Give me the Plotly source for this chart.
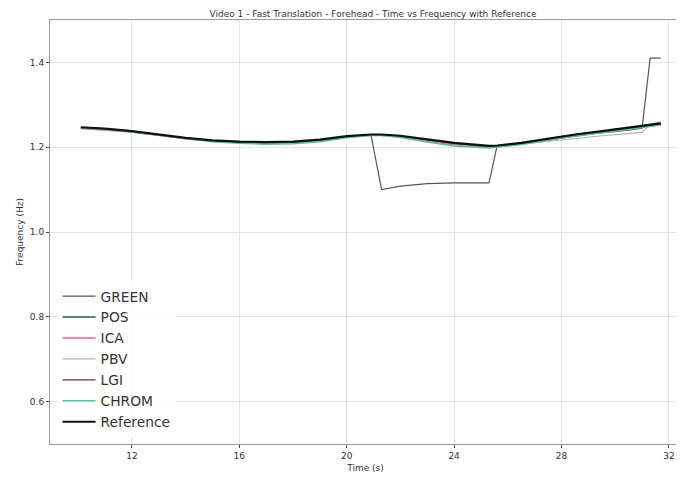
import plotly.graph_objects as go

time_s = [10.1, 11.0, 12.0, 13.0, 14.0, 15.0, 16.0, 17.0, 18.0, 19.0, 20.0, 20.9, 21.3,
          22.0, 23.0, 24.0, 25.3, 25.6, 26.5, 27.5, 28.5, 29.5, 30.5, 31.0, 31.3, 31.7]

reference = [1.247, 1.244, 1.238, 1.230, 1.222, 1.216, 1.213, 1.212, 1.213, 1.218, 1.226, 1.230, 1.230,
             1.227, 1.218, 1.210, 1.203, 1.204, 1.210, 1.220, 1.230, 1.238, 1.246, 1.250, 1.253, 1.256]
green = [1.245, 1.243, 1.237, 1.229, 1.221, 1.215, 1.212, 1.211, 1.212, 1.217, 1.225, 1.230, 1.100,
         1.108, 1.114, 1.116, 1.116, 1.203, 1.208, 1.217, 1.226, 1.234, 1.240, 1.245, 1.410, 1.410]
pos = [1.246, 1.243, 1.237, 1.229, 1.221, 1.215, 1.212, 1.211, 1.212, 1.217, 1.225, 1.229, 1.229,
       1.226, 1.217, 1.209, 1.202, 1.203, 1.209, 1.219, 1.229, 1.237, 1.245, 1.249, 1.252, 1.255]
ica = [1.244, 1.241, 1.236, 1.228, 1.220, 1.214, 1.211, 1.210, 1.211, 1.216, 1.224, 1.228, 1.228,
       1.224, 1.214, 1.206, 1.200, 1.202, 1.208, 1.218, 1.228, 1.236, 1.244, 1.248, 1.251, 1.254]
pbv = [1.246, 1.242, 1.236, 1.228, 1.220, 1.214, 1.211, 1.210, 1.211, 1.216, 1.224, 1.229, 1.229,
       1.225, 1.216, 1.208, 1.201, 1.203, 1.207, 1.214, 1.221, 1.227, 1.232, 1.235, 1.255, 1.260]
lgi = [1.246, 1.243, 1.237, 1.229, 1.221, 1.215, 1.212, 1.211, 1.212, 1.217, 1.225, 1.229, 1.229,
       1.226, 1.217, 1.209, 1.202, 1.203, 1.209, 1.219, 1.229, 1.237, 1.245, 1.249, 1.252, 1.255]
chrom = [1.245, 1.242, 1.236, 1.228, 1.220, 1.213, 1.209, 1.207, 1.208, 1.213, 1.222, 1.228, 1.228,
         1.223, 1.212, 1.203, 1.198, 1.200, 1.206, 1.216, 1.226, 1.234, 1.242, 1.246, 1.249, 1.252]

x_ticks = [12, 16, 20, 24, 28, 32]
y_ticks = [0.6, 0.8, 1.0, 1.2, 1.4]

series = [
    ("GREEN", green, "#505a55", 1.2),
    ("POS", pos, "#2e5a50", 1.6),
    ("ICA", ica, "#e06a78", 1.6),
    ("PBV", pbv, "#b8b0b0", 1.2),
    ("LGI", lgi, "#7a2a3a", 1.2),
    ("CHROM", chrom, "#4fc2a0", 1.4),
    ("Reference", reference, "#111111", 2.2),
]

fig = go.Figure()
for name, vals, color, w in series:
    fig.add_trace(go.Scatter(x=time_s, y=vals, mode="lines", name=name,
                             line=dict(color=color, width=w)))

fig.update_layout(
    width=676, height=473,
    margin=dict(l=42, r=3, t=12, b=37),
    paper_bgcolor="white", plot_bgcolor="white",
    font=dict(family="DejaVu Sans", size=9, color="#333"),
    title=dict(text="Video 1 - Fast Translation - Forehead - Time vs Frequency with Reference",
               x=0.54, xanchor="center", y=0.995, yanchor="top", pad=dict(t=0, b=0),
               font=dict(size=9, color="#333")),
    showlegend=True,
    legend=dict(x=0.012, y=0.015, xanchor="left", yanchor="bottom",
                bgcolor="rgba(255,255,255,0.8)", borderwidth=0,
                font=dict(size=13.8, color="#333"), itemwidth=33, tracegroupgap=0),
)
fig.update_xaxes(range=[8.95, 32.45], tickvals=x_ticks, ticks="outside", ticklen=3,
                 showgrid=True, gridcolor="#e4e4e4", gridwidth=1, zeroline=False,
                 showline=True, linecolor="#999", mirror=True,
                 title=dict(text="Time (s)", standoff=4, font=dict(size=9)))
fig.update_yaxes(range=[0.5, 1.5], tickvals=y_ticks, tickformat=".1f", ticks="outside", ticklen=3,
                 showgrid=True, gridcolor="#e4e4e4", gridwidth=1, zeroline=False,
                 showline=True, linecolor="#999", mirror=True,
                 title=dict(text="Frequency (Hz)", standoff=4, font=dict(size=9)))

fig.write_html("out.html")
